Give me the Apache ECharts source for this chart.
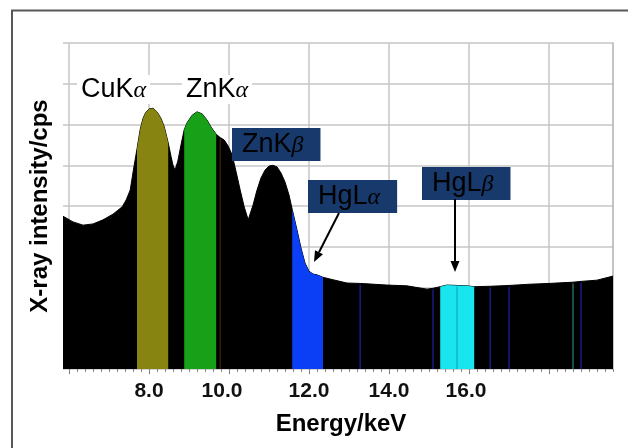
<!DOCTYPE html>
<html><head><meta charset="utf-8">
<script src="https://cdn.jsdelivr.net/npm/echarts@6/dist/echarts.min.js"></script>
<style>html,body{margin:0;padding:0;background:#fff}#c{width:628px;height:448px}</style>
</head><body><div id="c"></div>
<script>
// ---- data ----
const energies = [5.85,6.1,6.35,6.6,6.85,7.1,7.33,7.43,7.53,7.63,7.7,7.78,7.85,7.92,8.0,8.1,8.2,8.3,8.38,8.48,8.55,8.6,8.65,8.72,8.8,8.88,8.95,9.08,9.2,9.33,9.45,9.55,9.68,9.78,9.88,9.98,10.08,10.18,10.28,10.38,10.48,10.53,10.6,10.7,10.8,10.9,11.0,11.1,11.2,11.3,11.4,11.5,11.58,11.7,11.8,11.9,12.0,12.1,12.2,12.35,12.6,12.95,13.28,13.45,13.95,14.45,14.95,15.1,15.28,15.45,15.7,15.95,16.13,16.53,17.0,17.5,18.0,18.4,18.6,18.8,19.2,19.6];
const intensities = [3.75,3.61,3.53,3.56,3.66,3.80,3.98,4.15,4.39,5.0,5.40,5.88,6.15,6.30,6.38,6.40,6.31,6.15,5.95,5.55,5.22,5.0,4.88,5.10,5.50,5.87,6.04,6.23,6.31,6.26,6.11,5.94,5.76,5.68,5.62,5.47,5.25,4.83,4.39,3.98,3.66,3.68,4.02,4.39,4.69,4.88,4.98,5.00,4.96,4.81,4.59,4.27,3.92,3.41,2.97,2.60,2.40,2.33,2.31,2.25,2.19,2.11,2.10,2.09,2.06,2.04,1.96,1.98,2.02,2.06,2.05,2.04,2.02,2.03,2.05,2.08,2.10,2.12,2.13,2.15,2.18,2.28];
const bandNames = ['CuKα','ZnKα','HgLα','HgLβ'];
const bandStart = [7.7, 8.88, 11.58, 15.28];
const bandEnd = [8.48, 9.68, 12.35, 16.13];
const lineEnergies = [9.78, 13.28, 15.1, 15.7, 16.53, 17.0, 18.6, 18.8];
const xGridValues = [6, 8, 10, 12, 14, 16, 18];
const xTickLabels = [8, 10, 12, 14, 16];
const xMin = 5.85, xMax = 19.6, yMin = 0, yMax = 8;

// ---- styles ----
const bandColors = ['#878412', '#18a018', '#0b3ff6', '#19e5ef'];
const lineColors = ['#3a1c06', '#1a1a86', '#1a1a86', '#10b4c8', '#1a1a86', '#1a1a86', '#1f6b5c', '#1a1a86'];
const labelShift = { 10: 14, 16: 6 };
const boxColor = '#17396b';
const FONT = '"Liberation Sans", Arial, Helvetica, sans-serif';

const spectrum = energies.map((e, i) => [e, intensities[i]]);
const minorTicks = [];
for (let k = 0; 6 + k * 0.2 <= xMax + 1e-9; k++) minorTicks.push(+(6 + k * 0.2).toFixed(2));

const series = [{
  type: 'line', data: spectrum, symbol: 'none', smooth: false,
  lineStyle: { color: '#000', width: 1 }, areaStyle: { color: '#000', opacity: 1 },
  z: 2, silent: true
}];
bandNames.forEach((n, i) => {
  series.push({
    name: n, type: 'line', symbol: 'none', smooth: false,
    data: spectrum.filter(p => p[0] >= bandStart[i] - 1e-9 && p[0] <= bandEnd[i] + 1e-9),
    lineStyle: { width: 0 }, areaStyle: { color: bandColors[i], opacity: 1 },
    z: 3, silent: true
  });
});
series.push({
  type: 'bar', barWidth: 1.5, z: 4, silent: true,
  data: lineEnergies.map((e, i) => ({ value: [e, intensities[energies.indexOf(e)] - 0.03], itemStyle: { color: lineColors[i] } }))
});

const greek = { fontFamily: '"Liberation Serif", "DejaVu Serif", serif', fontStyle: 'italic', fontSize: 24 };
function label(x, y, main, g, boxed) {
  return {
    type: 'text', x: x, y: y, z: 100,
    style: {
      text: '{m|' + main + '}{g|' + g + '}',
      backgroundColor: boxed ? boxColor : '#fff',
      padding: boxed ? [3, 17, 3, 10] : [1, 4, 1, 4],
      rich: {
        m: { fontFamily: FONT, fontSize: 27, lineHeight: 27, color: boxed ? '#fff' : '#000', verticalAlign: 'bottom' },
        g: Object.assign({ color: boxed ? '#fff' : '#000', verticalAlign: 'bottom', lineHeight: 27 }, greek)
      }
    }
  };
}
function arrow(x1, y1, x2, y2) {
  const a = Math.atan2(y2 - y1, x2 - x1), L = 11, W = 4.5;
  const bx = x2 - L * Math.cos(a), by = y2 - L * Math.sin(a);
  const px = -Math.sin(a) * W, py = Math.cos(a) * W;
  return [
    { type: 'line', z: 100, shape: { x1: x1, y1: y1, x2: bx, y2: by }, style: { stroke: '#000', lineWidth: 2 } },
    { type: 'polygon', z: 100, shape: { points: [[x2, y2], [bx + px, by + py], [bx - px, by - py]] }, style: { fill: '#000' } }
  ];
}

const chart = echarts.init(document.getElementById('c'), null, { renderer: 'canvas' });
chart.setOption({
  animation: false,
  backgroundColor: '#fff',
  grid: { left: 63, right: 15, top: 43, bottom: 79 },
  xAxis: [{
    type: 'value', min: xMin, max: xMax,
    axisLine: { show: false },
    axisTick: { show: true, customValues: xGridValues, length: 5, lineStyle: { color: '#777', width: 1 } },
    axisLabel: {
      customValues: xTickLabels, margin: 12, fontFamily: FONT, fontWeight: 'bold', fontSize: 21, color: '#111',
      formatter: v => labelShift[v] ? '{s' + v + '|' + v.toFixed(1) + '}' : v.toFixed(1),
      rich: {
        s10: { fontFamily: FONT, fontWeight: 'bold', fontSize: 21, color: '#111', padding: [0, labelShift[10], 0, 0] },
        s16: { fontFamily: FONT, fontWeight: 'bold', fontSize: 21, color: '#111', padding: [0, labelShift[16], 0, 0] }
      }
    },
    splitLine: { show: true, lineStyle: { color: '#c6c6c6', width: 1.5 } }
  }, {
    type: 'value', min: xMin, max: xMax, position: 'bottom',
    axisLine: { show: false },
    axisTick: { show: true, customValues: minorTicks, length: 3, lineStyle: { color: '#888', width: 1 } },
    axisLabel: { show: false }, splitLine: { show: false }
  }],
  yAxis: [{
    type: 'value', min: yMin, max: yMax, interval: 1,
    axisLine: { show: false }, axisTick: { show: false }, axisLabel: { show: false },
    splitLine: { show: true, lineStyle: { color: '#c6c6c6', width: 1.5 } }
  }, {
    type: 'value', min: yMin, max: yMax, interval: 1, position: 'right',
    axisLine: { show: true, lineStyle: { color: '#b0b0b0', width: 1.5 } },
    axisTick: { show: false }, axisLabel: { show: false }, splitLine: { show: false }
  }],
  series: series,
  graphic: [
    { type: 'polyline', z: 100, shape: { points: [[12, 448], [12, 10.5], [628, 10.5]] }, style: { stroke: '#585858', lineWidth: 2, fill: null } },
    { type: 'text', z: 100, x: 40, y: 206, rotation: Math.PI / 2,
      style: { text: 'X-ray intensity/cps', fontFamily: FONT, fontWeight: 'bold', fontSize: 24, fill: '#000', align: 'center', verticalAlign: 'middle' } },
    { type: 'text', z: 100, x: 341, y: 424,
      style: { text: 'Energy/keV', fontFamily: FONT, fontWeight: 'bold', fontSize: 24, fill: '#000', align: 'center', verticalAlign: 'middle' } },
    label(77, 75, 'CuK', 'α', false),
    label(182, 75, 'ZnK', 'α', false),
    label(232, 128, 'ZnK', 'β', true),
    label(308, 180, 'HgL', 'α', true),
    label(422, 167, 'HgL', 'β', true)
  ].concat(arrow(339, 213, 314, 262), arrow(455, 199, 455, 272))
});
</script>
</body></html>
